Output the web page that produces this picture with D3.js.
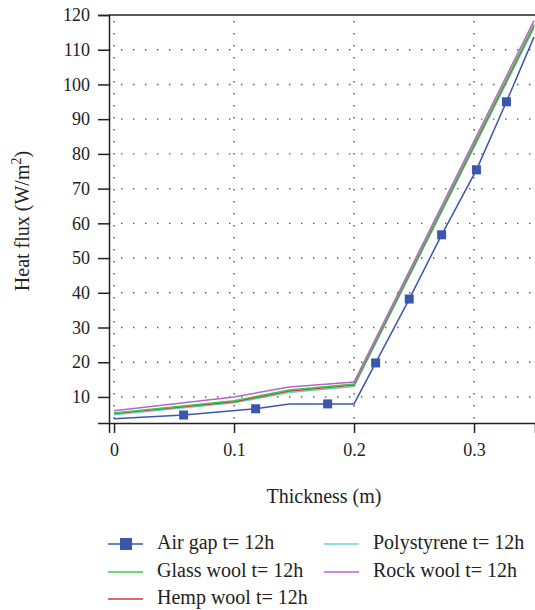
<!DOCTYPE html>
<html lang="en">
<head>
  <meta charset="UTF-8">
  <title>Heat flux</title>
  <style>
    body { margin: 0; background: #fff; }
  </style>
</head>
<body>
  <svg id="svg" width="535" height="610"></svg>

  <script src="https://d3js.org/d3.v7.min.js"></script>
  <script>
    // thickness values (m)
    const airX = [0, 0.058, 0.118, 0.146, 0.178, 0.2, 0.218, 0.246, 0.273, 0.302, 0.327, 0.35]
    const airY = [3.7, 4.8, 6.6, 8.0, 8.0, 8.0, 19.8, 38.2, 56.7, 75.4, 95.0, 113.7]
    const airMarked = [false, true, true, false, true, false, true, true, true, true, true, false]

    const matX = [0, 0.1, 0.146, 0.2, 0.35]
    const glassY = [5.4, 8.9, 12.0, 13.7, 117.3]
    const hempY = [5.2, 8.6, 11.7, 13.4, 116.9]
    const polyY = [4.9, 8.3, 11.3, 13.0, 116.2]
    const rockY = [6.0, 10.0, 12.9, 14.3, 118.4]

    const xTicks = [0, 0.1, 0.2, 0.3]
    const yTicks = [10, 20, 30, 40, 50, 60, 70, 80, 90, 100, 110, 120]

    const series = [
      { name: 'Polystyrene t= 12h', xs: matX, ys: polyY, color: '#6fd0d0' },
      { name: 'Hemp wool t= 12h', xs: matX, ys: hempY, color: '#c83a3a' },
      { name: 'Glass wool t= 12h', xs: matX, ys: glassY, color: '#3ccc3c' },
      { name: 'Rock wool t= 12h', xs: matX, ys: rockY, color: '#b466cc' },
      { name: 'Air gap t= 12h', xs: airX, ys: airY, color: '#3a56ad', marker: true }
    ]

    const FONT = "'Liberation Serif', serif"
    const svg = d3.select('#svg')
    const mLeft = 109, mRight = 535, mTop = 15, mBottom = 423

    const xScale = d3.scaleLinear()
      .domain([-0.0042, 0.3508])
      .range([mLeft, mRight])
    const yScale = d3.scaleLinear()
      .domain([2.5, 120])
      .range([mBottom, mTop])

    // dotted grid
    const grid = svg.append('g')
    grid.selectAll('.hg')
      .data(yTicks.slice(0, -1))
      .enter()
      .append('line')
      .attr('x1', mLeft).attr('x2', mRight)
      .attr('y1', d => yScale(d)).attr('y2', d => yScale(d))
      .attr('stroke', '#555').attr('stroke-width', 1.4)
      .attr('stroke-dasharray', '1.4 10.6')
    grid.selectAll('.vg')
      .data(xTicks)
      .enter()
      .append('line')
      .attr('x1', d => xScale(d)).attr('x2', d => xScale(d))
      .attr('y1', mTop + 6).attr('y2', mBottom)
      .attr('stroke', '#555').attr('stroke-width', 1.4)
      .attr('stroke-dasharray', '1.4 10.6')

    // lines
    svg.append('clipPath').attr('id', 'clip')
      .append('rect').attr('x', mLeft).attr('y', mTop).attr('width', mRight - mLeft).attr('height', mBottom - mTop)
    const plot = svg.append('g').attr('clip-path', 'url(#clip)')
    const line = d3.line()
    series.forEach(s => {
      plot.append('path')
        .attr('d', line(s.xs.map((x, i) => [xScale(x), yScale(s.ys[i])])))
        .attr('fill', 'none')
        .attr('stroke', s.color)
        .attr('stroke-width', 1.5)
    })
    plot.selectAll('.mk')
      .data(airX.map((x, i) => [x, airY[i], airMarked[i]]).filter(d => d[2]))
      .enter()
      .append('rect')
      .attr('x', d => xScale(d[0]) - 4.5)
      .attr('y', d => yScale(d[1]) - 4.5)
      .attr('width', 9).attr('height', 9)
      .attr('fill', '#3a56ad')

    // axes
    const xAxis = svg.append('g')
      .attr('transform', `translate(0,${mBottom})`)
      .call(d3.axisBottom(xScale).tickValues(xTicks).tickFormat(d => d === 0 ? '0' : d3.format('.1f')(d)).tickSize(10).tickPadding(10))
    const yAxis = svg.append('g')
      .attr('transform', `translate(${mLeft},0)`)
      .call(d3.axisLeft(yScale).tickValues(yTicks).tickSize(11).tickPadding(8))
    ;[xAxis, yAxis].forEach(a => {
      a.attr('font-family', FONT).attr('font-size', 18)
      a.select('.domain').attr('stroke', '#222').attr('stroke-width', 1.5)
      a.selectAll('.tick line').attr('stroke', '#222').attr('stroke-width', 1.5)
      a.selectAll('.tick text').attr('fill', '#222')
    })
    svg.append('line')
      .attr('x1', mLeft).attr('x2', mRight).attr('y1', mTop).attr('y2', mTop)
      .attr('stroke', '#222').attr('stroke-width', 1.5)

    // axis titles
    svg.append('text')
      .attr('x', 324).attr('y', 503)
      .attr('text-anchor', 'middle')
      .attr('font-family', FONT).attr('font-size', 20).attr('fill', '#222')
      .text('Thickness (m)')
    const yt = svg.append('text')
      .attr('transform', 'translate(29,221) rotate(-90)')
      .attr('text-anchor', 'middle')
      .attr('font-family', FONT).attr('font-size', 20).attr('fill', '#222')
    yt.append('tspan').text('Heat flux (W/m')
    yt.append('tspan').attr('dy', -8).attr('font-size', 14).text('2')
    yt.append('tspan').attr('dy', 8).text(')')

    // legend
    const legendOrder = [
      { s: series[4], x: 108, y: 544 },
      { s: series[2], x: 108, y: 572 },
      { s: series[1], x: 108, y: 599 },
      { s: series[0], x: 324, y: 544 },
      { s: series[3], x: 324, y: 572 }
    ]
    const lg = svg.selectAll('.lg')
      .data(legendOrder)
      .enter()
      .append('g')
      .attr('transform', d => `translate(${d.x},${d.y})`)
    lg.append('line')
      .attr('x1', 0).attr('x2', 35).attr('y1', 0).attr('y2', 0)
      .attr('stroke', d => d.s.color).attr('stroke-width', 1.5)
    lg.filter(d => d.s.marker)
      .append('rect')
      .attr('x', 12).attr('y', -6).attr('width', 12).attr('height', 12)
      .attr('fill', d => d.s.color)
    lg.append('text')
      .attr('x', 49).attr('y', 5)
      .attr('font-family', FONT).attr('font-size', 20).attr('fill', '#222')
      .text(d => d.s.name)
  </script>
</body>
</html>
